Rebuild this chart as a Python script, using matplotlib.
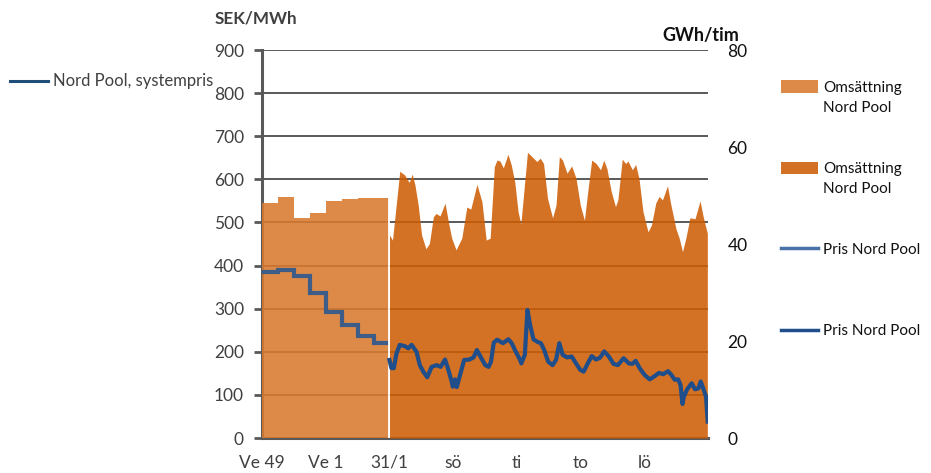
import matplotlib
matplotlib.use("Agg")
import matplotlib.pyplot as plt
from matplotlib.patches import Rectangle
from matplotlib.lines import Line2D
import numpy as np

plt.rcParams['font.family'] = ['Lato', 'DejaVu Sans']

# ---- data ----
weeks = ['Ve 49', 'Ve 50', 'Ve 51', 'Ve 52', 'Ve 1', 'Ve 2', 'Ve 3', 'Ve 4']
week_price = [385, 390, 375, 337, 293, 263, 237, 220]          # SEK/MWh
week_volume = [48.4, 49.6, 45.4, 46.4, 48.8, 49.3, 49.4, 49.4]  # GWh/tim

# hourly part, 31/1 onwards (hours since 31/1 00:00)
vol_hours = [0, 2.3, 7.8, 11.6, 14.9, 17.2, 19.2, 21.7, 24.2, 27.5, 30.1, 33.1, 35.1,
             38.1, 41.9, 44.4, 46.9, 50.2, 54.5, 58.3, 61.3, 65.9, 69.7, 72.9, 75.9,
             79.0, 81.0, 83.3, 85.8, 89.3, 91.8, 94.4, 96.9, 99.0, 101.5, 104.0,
             108.5, 111.1, 113.6, 116.1, 119.1, 122.9, 125.5, 128.0, 130.4, 133.8,
             137.3, 140.6, 143.8, 146.9, 149.4, 152.4, 155.7, 159.0, 161.5, 163.8,
             167.1, 170.3, 172.1, 175.4, 177.9, 179.7, 183.0, 185.5, 188.0, 191.0,
             194.8, 197.4, 200.6, 203.1, 205.7, 209.5, 211.8, 215.8, 218.3, 220.8,
             223.3, 226.4, 230.2, 234.0, 236.4, 239.5]
vol_values = [41.9, 40.8, 55.0, 54.2, 52.7, 54.4, 52.2, 48.0, 41.9, 39.0, 40.1, 45.6, 46.3,
              45.8, 48.4, 44.6, 41.2, 38.8, 41.2, 47.6, 47.2, 52.3, 48.7, 40.8, 41.2,
              55.9, 57.3, 57.1, 55.7, 58.5, 56.3, 52.8, 46.7, 44.1, 51.5, 58.9,
              57.7, 57.0, 57.7, 56.6, 49.4, 45.4, 48.0, 58.0, 57.3, 54.6,
              56.1, 53.5, 48.0, 44.9, 50.8, 57.3, 56.6, 55.3, 57.3, 55.6,
              50.8, 47.7, 49.1, 57.5, 56.6, 57.1, 55.3, 56.4, 53.5, 46.7,
              42.5, 43.9, 48.4, 49.8, 49.1, 52.0, 48.4, 43.2, 41.2, 38.4,
              41.2, 45.4, 45.2, 48.9, 45.6, 42.2]

price_hours = [0, 1.5, 3.3, 5.3, 7.8, 11.6, 14.2, 16.7, 20.4, 22.9, 25.5, 28.5, 31.8,
               35.6, 38.6, 41.9, 44.4, 46.9, 47.7, 49.4, 50.7, 53.2, 56.3, 60.3, 63.4,
               65.9, 68.9, 72.2, 74.7, 76.5, 78.6, 81.1, 85.6, 89.6, 92.1, 95.2, 98.3,
               99.4, 102.0, 104.0, 106.0, 108.5, 111.5, 114.1, 116.6, 119.6, 122.9,
               125.5, 128.0, 130.5, 133.8, 137.3, 140.6, 143.8, 146.3, 149.4, 152.4,
               155.7, 158.6, 161.8, 165.3, 168.8, 172.1, 176.4, 180.4, 183.0, 185.5,
               188.5, 192.3, 196.1, 199.1, 203.1, 206.2, 209.9, 212.5, 215.0, 217.5,
               219.3, 220.8, 221.8, 224.3, 227.7, 230.2, 232.7, 234.5, 236.4, 238.5,
               239.8]
price_values = [181, 162, 162, 196, 216, 213, 208, 216, 200, 169, 154, 141, 165,
                169, 165, 182, 158, 131, 119, 136, 118, 146, 181, 182, 187,
                204, 187, 169, 165, 177, 221, 228, 220, 229, 220, 200, 182,
                173, 193, 297, 262, 229, 223, 220, 204, 177, 169,
                181, 220, 193, 187, 189, 173, 158, 154, 173, 190,
                182, 186, 201, 189, 172, 169, 185, 173, 172, 179,
                162, 146, 136, 142, 151, 148, 155, 146, 135, 136,
                123, 79, 96, 113, 127, 113, 115, 131, 115, 96,
                38]

x_labels = ['Ve 49', 'Ve 1', '31/1', 'sö', 'ti', 'to', 'lö']

# ---- layout helpers (x: one unit per week, one day = 2 units) ----
n_weeks = len(weeks)
week_edges = np.arange(n_weeks + 1)
vol_x = n_weeks + np.array(vol_hours) / 12.0
price_x = n_weeks + np.array(price_hours) / 12.0
x_ticks = [0, 4, 8, 12, 16, 20, 24]

fig = plt.figure(figsize=(9.31, 4.73), dpi=100)
ax = fig.add_axes([262 / 931, 1 - 438 / 473, 446 / 931, 388 / 473])
ax2 = ax.twinx()

grey = '#595959'
text_grey = '#404040'
light_or = '#D97A2F'
dark_or = '#CD5D05'

ax.set_xlim(0, 28)
ax.set_ylim(0, 900)
ax2.set_ylim(0, 80)
ax.set_yticks(range(0, 901, 100))
ax2.set_yticks(range(0, 81, 20))
ax.yaxis.grid(True, color=grey, lw=1.4)
ax.set_axisbelow(True)

# fills on the secondary axis (semi transparent so the grid shows through)
ax2.stairs(week_volume, week_edges, fill=True, color=light_or, alpha=0.88, lw=0)
ax2.fill_between(vol_x, vol_values, 0, color=dark_or, alpha=0.88, lw=0)
ax2.axvline(n_weeks, ymin=0, ymax=49.4 / 80, color='white', lw=1.3)

# price lines (on top, drawn in the price axis' coordinates)
ax2.stairs(week_price, week_edges, baseline=None, color='#3D5C87', lw=3.0,
           transform=ax.transData)
ax2.plot(price_x, price_values, color='#1F4E8A', lw=3.0, solid_joinstyle='round',
         transform=ax.transData)
ax2.set_ylim(0, 80)
ax2.set_xlim(0, 28)

for s in ['top', 'right']:
    ax.spines[s].set_visible(False)
for s in ['top', 'right', 'left', 'bottom']:
    ax2.spines[s].set_visible(False)
ax.spines['left'].set_color(grey)
ax.spines['left'].set_linewidth(2.2)
ax.spines['bottom'].set_color(grey)
ax.spines['bottom'].set_linewidth(2.2)
ax.spines['bottom'].set_zorder(5)

ax.set_xticks(x_ticks)
ax.set_xticklabels(x_labels)
ax.tick_params(axis='x', length=0, pad=12, labelsize=12.5, labelcolor=text_grey)
ax.tick_params(axis='y', length=6, width=2, color=grey, pad=7, labelsize=12.5,
               labelcolor=text_grey)
ax2.tick_params(axis='y', length=0, pad=14, labelsize=12.5, labelcolor='#111111')

fig.text(215 / 931, 1 - 18 / 473, 'SEK/MWh', fontsize=12.3, fontweight='bold',
         color=text_grey, va='center', ha='left')
fig.text(662 / 931, 1 - 35 / 473, 'GWh/tim', fontsize=13, fontweight='bold',
         color='#111111', va='center', ha='left')

# left legend
fig.add_artist(Line2D([10 / 931, 48 / 931], [1 - 81 / 473] * 2, color='#1F4E79', lw=2.2))
fig.text(53 / 931, 1 - 81 / 473, 'Nord Pool, systempris', fontsize=12,
         color=text_grey, va='center', ha='left')

# right legend
H = 473.0
W = 931.0
fig.add_artist(Rectangle((781 / W, 1 - 93 / H), 37 / W, 13 / H, color=light_or,
                         alpha=0.88, lw=0))
fig.text(823 / W, 1 - 98 / H, 'Omsättning\nNord Pool', fontsize=11, color='#111111',
         va='center', ha='left', linespacing=1.5)
fig.add_artist(Rectangle((781 / W, 1 - 174 / H), 37 / W, 12 / H, color=dark_or,
                         alpha=0.88, lw=0))
fig.text(823 / W, 1 - 179 / H, 'Omsättning\nNord Pool', fontsize=11, color='#111111',
         va='center', ha='left', linespacing=1.5)
fig.add_artist(Line2D([781 / W, 818 / W], [1 - 248 / H] * 2, color='#4A72A8', lw=2.5))
fig.text(823 / W, 1 - 250 / H, 'Pris Nord Pool', fontsize=11, color='#111111',
         va='center', ha='left')
fig.add_artist(Line2D([781 / W, 818 / W], [1 - 330 / H] * 2, color='#1F4E8A', lw=2.5))
fig.text(823 / W, 1 - 331 / H, 'Pris Nord Pool', fontsize=11, color='#111111',
         va='center', ha='left')

fig.savefig('out.png', dpi=100)
